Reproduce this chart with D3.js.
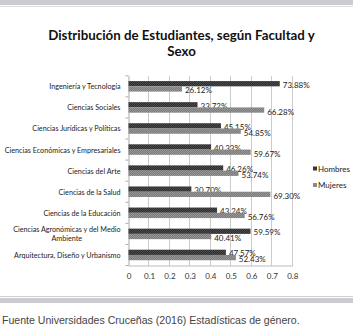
<!DOCTYPE html>
<html><head><meta charset="utf-8">
<script src="https://cdn.jsdelivr.net/npm/d3@7"></script>
<style>
html,body{margin:0;padding:0;background:#fff;}
svg{display:block;}
</style></head>
<body>
<script>
const categories = ["Ingeniería y Tecnología","Ciencias Sociales","Ciencias Jurídicas y Políticas","Ciencias Económicas y Empresariales","Ciencias del Arte","Ciencias de la Salud","Ciencias de la Educación","Ciencias Agronómicas y del Medio|Ambiente","Arquitectura, Diseño y Urbanismo"];
const hombres = [0.7388,0.3372,0.4515,0.4033,0.4626,0.3070,0.4324,0.5959,0.4757];
const mujeres = [0.2612,0.6628,0.5485,0.5967,0.5374,0.6930,0.5676,0.4041,0.5243];
const seriesNames = ["Hombres","Mujeres"];
const xTicks = [0,0.1,0.2,0.3,0.4,0.5,0.6,0.7,0.8];
const titleLines = ["Distribución de Estudiantes, según Facultad y","Sexo"];
const footer = "Fuente Universidades Cruceñas (2016) Estadísticas de género.";

const W=353,H=335;
const svg=d3.select("body").append("svg").attr("width",W).attr("height",H);
const defs=svg.append("defs");
function pat(id,bg,fg){
  const p=defs.append("pattern").attr("id",id).attr("width",2).attr("height",2).attr("patternUnits","userSpaceOnUse");
  p.append("rect").attr("width",2).attr("height",2).attr("fill",bg);
  p.append("rect").attr("width",1).attr("height",1).attr("fill",fg);
  p.append("rect").attr("x",1).attr("y",1).attr("width",1).attr("height",1).attr("fill",fg);
}
pat("pH","#2e2e2e","#4a4a4a");
pat("pM","#7c7c7c","#969696");
const colors=["url(#pH)","url(#pM)"];
const legendColors=["#383838","#8a8a8a"];

// decorative bands
svg.append("rect").attr("x",0).attr("y",0).attr("width",W).attr("height",5).attr("fill","#cdcbd0");
svg.append("rect").attr("x",0).attr("y",6).attr("width",W).attr("height",1).attr("fill","#dcdcdc");
svg.append("rect").attr("x",0).attr("y",296).attr("width",W).attr("height",1).attr("fill","#cfcfcf");
svg.append("rect").attr("x",0).attr("y",298).attr("width",W).attr("height",5).attr("fill","#cdcbd0");

const x=d3.scaleLinear().domain([0,0.8]).range([128.5,292.3]);
const y=d3.scaleBand().domain(categories).range([75.8,265.5]).paddingInner(0.5).paddingOuter(0.25);
const ySub=d3.scaleBand().domain(seriesNames).range([0,y.bandwidth()]);

// gridlines
svg.append("g").selectAll("line").data(xTicks.slice(1)).join("line")
  .attr("x1",d=>x(d)).attr("x2",d=>x(d)).attr("y1",75.8).attr("y2",265.5)
  .attr("stroke","#cccccc").attr("stroke-width",1).attr("shape-rendering","crispEdges");

// x axis
const xAxis=svg.append("g").attr("transform","translate(0,265.5)")
  .call(d3.axisBottom(x).tickValues(xTicks).tickFormat(d=>d===0?"0":d3.format(".1f")(d)).tickSize(0).tickPadding(8));
xAxis.select(".domain").attr("stroke","#bbbbbb");
xAxis.selectAll("text").attr("font-family","Lato").attr("font-size","8px").attr("fill","#333");

// y axis
const yAxis=svg.append("g").attr("transform","translate(128.5,0)")
  .call(d3.axisLeft(y).tickSize(0).tickFormat(""));
yAxis.select(".domain").attr("stroke","#aaaaaa");
svg.append("g").selectAll("line").data(d3.range(categories.length+1)).join("line")
  .attr("x1",125.5).attr("x2",128.5)
  .attr("y1",i=>75.8+i*y.step()).attr("y2",i=>75.8+i*y.step())
  .attr("stroke","#aaaaaa");

// category labels
categories.forEach(c=>{
  const lines=c.split("|");
  const cy=y(c)+y.bandwidth()/2;
  const t=svg.append("text").attr("font-family","Lato").attr("font-size","7.2px").attr("fill","#222");
  const n=lines.length;
  lines.forEach((l,i)=>{
    t.append("tspan").text(l).attr("y",cy+3+(i-(n-1)/2)*9);
  });
  let maxW=0; t.selectAll("tspan").each(function(){maxW=Math.max(maxW,this.getComputedTextLength());});
  if(maxW>118){ t.attr("font-size",(7.2*118/maxW)+"px"); maxW=118; }
  if(n===1){t.attr("text-anchor","end").selectAll("tspan").attr("x",120.5);}
  else {t.attr("text-anchor","middle").selectAll("tspan").attr("x",120.5-maxW/2);}
});

// bars
const data=categories.map((c,i)=>({c,vals:[hombres[i],mujeres[i]]}));
const g=svg.append("g");
data.forEach(d=>{
  d.vals.forEach((v,j)=>{
    const yy=y(d.c)+ySub(seriesNames[j]);
    g.append("rect").attr("x",x(0)).attr("y",yy).attr("width",x(v)-x(0)).attr("height",ySub.bandwidth())
      .attr("fill",colors[j]);
    g.append("text").attr("x",x(v)+3).attr("y",yy+ySub.bandwidth()/2+(j===0?4:4.5))
      .attr("font-family","Lato").attr("font-size","8px").attr("fill","#222")
      .text(d3.format(".2f")(v*100)+"%");
  });
});

// legend
seriesNames.forEach((s,i)=>{
  const ly=168.5+i*16.5;
  svg.append("rect").attr("x",313).attr("y",ly-2).attr("width",4).attr("height",4).attr("fill",legendColors[i]);
  svg.append("text").attr("x",318).attr("y",ly+3).attr("font-family","Lato").attr("font-size","8px").attr("fill","#222").text(s);
});

// title
const tt=svg.append("text").attr("text-anchor","middle").attr("font-family","Lato").attr("font-weight","bold").attr("font-size","13px").attr("fill","#111");
tt.append("tspan").attr("x",181.5).attr("y",39.5).text(titleLines[0]);
tt.append("tspan").attr("x",181.5).attr("y",55.5).text(titleLines[1]);
{
  const w=tt.select("tspan").node().getComputedTextLength();
  const fs=13*267/w; tt.attr("font-size",fs+"px");
}

// footer
const ft=svg.append("text").attr("x",2).attr("y",324).attr("font-family","Liberation Sans").attr("font-size","10px").attr("fill","#444").text(footer);
{
  const w=ft.node().getComputedTextLength();
  ft.attr("font-size",(10*298/w)+"px");
}
</script>
</body></html>
